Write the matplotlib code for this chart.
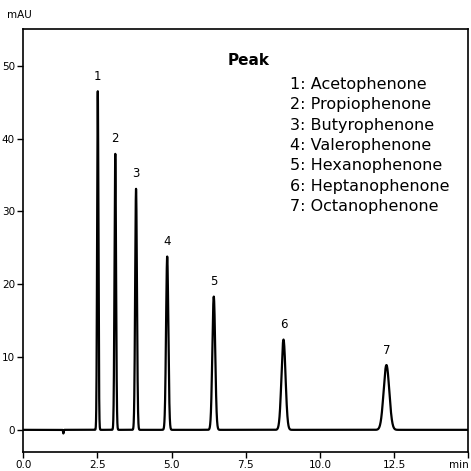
import numpy as np
import matplotlib.pyplot as plt

# peak table
peak_ids = ["1", "2", "3", "4", "5", "6", "7"]
compounds = ["Acetophenone", "Propiophenone", "Butyrophenone", "Valerophenone",
             "Hexanophenone", "Heptanophenone", "Octanophenone"]
ret_time = [2.51, 3.10, 3.80, 4.85, 6.42, 8.77, 12.24]   # min
height = [46.5, 37.9, 33.1, 23.8, 18.3, 12.4, 8.9]       # mAU
sigma = [0.022, 0.026, 0.030, 0.038, 0.048, 0.068, 0.095]  # min

# small negative baseline blip
dip_time = 1.35
dip_height = -0.5
dip_sigma = 0.01

t = np.linspace(0, 15, 6000)
signal = dip_height * np.exp(-0.5 * ((t - dip_time) / dip_sigma) ** 2)
for rt, h, s in zip(ret_time, height, sigma):
    signal += h * np.exp(-0.5 * ((t - rt) / s) ** 2)

fig = plt.figure(figsize=(4.71, 4.71), dpi=100)
ax = fig.add_axes([0.0495, 0.041, 0.9448, 0.8968])
ax.plot(t, signal, color="black", lw=1.6)

ax.set_xlim(0, 15)
ax.set_ylim(-3, 55)
ax.set_xticks([0, 2.5, 5, 7.5, 10, 12.5, 15])
ax.set_xticklabels(["0.0", "2.5", "5.0", "7.5", "10.0", "12.5", "min"])
ax.get_xticklabels()[-1].set_horizontalalignment("right")
ax.set_yticks([0, 10, 20, 30, 40, 50])
ax.tick_params(labelsize=7.5, length=4, width=1, color="black", pad=2)
for sp in ax.spines.values():
    sp.set_linewidth(1.2)

fig.text(0.042, 0.968, "mAU", fontsize=7.5, ha="center", va="center")

for pid, rt, h in zip(peak_ids, ret_time, height):
    ax.annotate(pid, (rt, h), xytext=(0, 6), textcoords="offset points",
                ha="center", va="bottom", fontsize=8.5)

ax.text(0.507, 0.927, "Peak", transform=ax.transAxes, fontsize=11,
        fontweight="bold", ha="center", va="center")
for i, (pid, name) in enumerate(zip(peak_ids, compounds)):
    ax.text(0.599, 0.870 - i * 0.0483, f"{pid}: {name}", transform=ax.transAxes,
            fontsize=11.5, ha="left", va="center")

fig.savefig("out.png", dpi=100)
